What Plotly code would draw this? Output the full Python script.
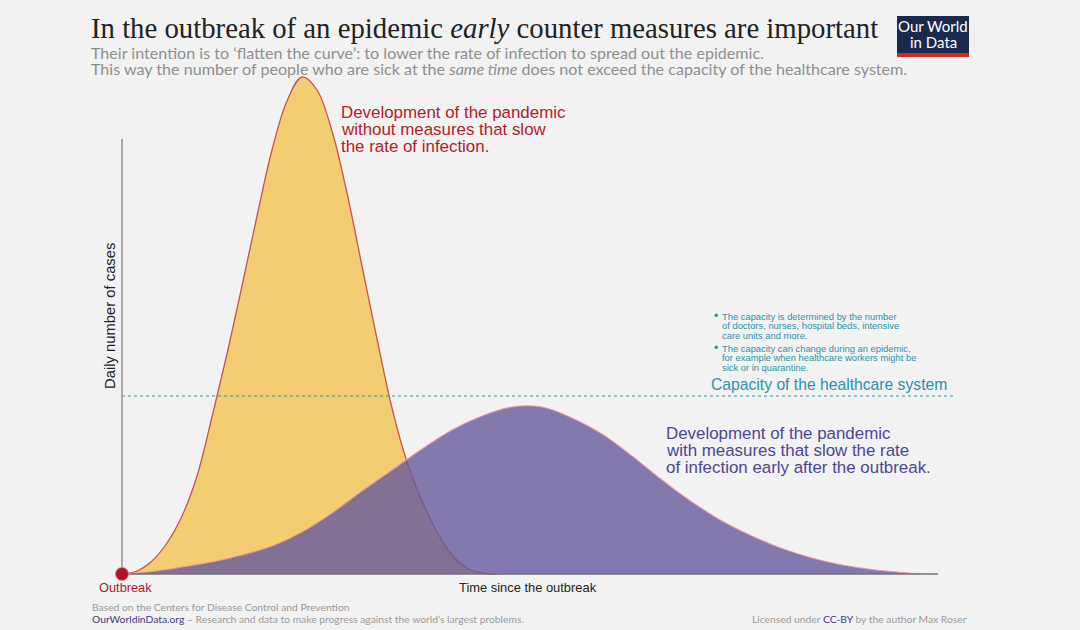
import plotly.graph_objects as go

# curves: time since outbreak, daily cases (chart units)
no_measures = [
    (0, 0), (15, 3), (30, 13), (45, 31), (60, 58), (75, 98), (90, 157), (105, 220),
    (120, 288), (135, 358), (150, 424), (165, 473), (180, 497), (195, 484),
    (210, 443), (225, 381), (240, 308), (255, 235), (270, 166), (285, 112),
    (300, 73), (315, 42), (330, 19), (345, 6), (360, 1), (375, 0),
]
with_measures = [
    (0, 0), (30, 2.5), (60, 7), (90, 12), (120, 19), (150, 28), (180, 42), (210, 61),
    (240, 83), (270, 104), (300, 125), (330, 144), (360, 158), (390, 167), (420, 167),
    (450, 156), (480, 140), (510, 118), (540, 94), (570, 72), (600, 53), (630, 38),
    (660, 25.5), (690, 16), (720, 9), (750, 4.5), (780, 1.5), (800, 0),
]
capacity = 178

fig = go.Figure()

fig.add_trace(go.Scatter(
    x=[p[0] for p in no_measures], y=[p[1] for p in no_measures],
    mode="lines", line=dict(color="#c9534c", width=1.3, shape="spline"),
    fill="tozeroy", fillcolor="#f2cd72",
))
fig.add_trace(go.Scatter(
    x=[p[0] for p in with_measures], y=[p[1] for p in with_measures],
    mode="lines", line=dict(color="rgba(238,150,165,0.9)", width=1.1, shape="spline"),
    fill="tozeroy", fillcolor="rgba(103,90,157,0.8)",
))

# capacity line and the two axes
fig.add_trace(go.Scatter(x=[0, 831], y=[capacity, capacity], mode="lines",
                         line=dict(color="#2f9a98", width=1.2, dash="dot")))
fig.add_trace(go.Scatter(x=[0, 0], y=[0, 435], mode="lines",
                         line=dict(color="#8c8c8c", width=1.4)))
fig.add_trace(go.Scatter(x=[0, 816], y=[0, 0], mode="lines",
                         line=dict(color="#76707c", width=1.6)))
fig.add_trace(go.Scatter(x=[0], y=[0], mode="markers",
                         marker=dict(color="#b5112a", size=13,
                                     line=dict(color="#d9808c", width=1))))

SANS = "Liberation Sans"
LATO = "Lato"
GREY = "#8f8f8f"
RED = "#b3202c"
PURPLE = "#4f4595"
TEAL = "#2b93a8"


def note(text, px, py, size, color, family=SANS, anchor="left", angle=0):
    fig.add_annotation(text=text, x=px - 122, y=574 - py, xref="x", yref="y",
                       showarrow=False, xanchor=anchor, yanchor="middle",
                       textangle=angle, font=dict(size=size, color=color, family=family))


note("Their intention is to ‘flatten the curve’: to lower the rate of infection to spread out the epidemic.",
     89, 52, 16.1, GREY, LATO)
note("This way the number of people who are sick at the <i>same time</i> does not exceed the capacity of the healthcare system.",
     89, 68, 16.1, GREY, LATO)

for i, line in enumerate(["Development of the pandemic", "without measures that slow", "the rate of infection."]):
    note(line, 339, 112 + i * 17, 16.9, RED)
for i, line in enumerate(["Development of the pandemic", "with measures that slow the rate", "of infection early after the outbreak."]):
    note(line, 664, 433 + i * 17, 16.9, PURPLE)

for i, line in enumerate(["The capacity is determined by the number", "of doctors, nurses, hospital beds, intensive", "care units and more."]):
    note(line, 720, 316 + i * 9.8, 9.4, TEAL)
for i, line in enumerate(["The capacity can change during an epidemic,", "for example when healthcare workers might be", "sick or in quarantine."]):
    note(line, 720, 348 + i * 9.8, 9.4, TEAL)
note("•", 712, 316, 12, TEAL)
note("•", 712, 348, 12, TEAL)
note("Capacity of the healthcare system", 709, 384, 15.7, TEAL)

note("Daily number of cases", 110, 316, 14.8, "#222222", anchor="center", angle=-90)
note("Time since the outbreak", 528, 587, 12.9, "#222222", anchor="center")
note("Outbreak", 125, 587, 12.8, RED, anchor="center")

note("Based on the Centers for Disease Control and Prevention", 90, 607, 10.3, "#9a9a9a", LATO)
note("<span style='color:#3f3a84'>OurWorldinData.org</span> – Research and data to make progress against the world’s largest problems.",
     90, 619, 10.3, "#9a9a9a", LATO)
note("Licensed under <span style='color:#3f3a84'>CC-BY</span> by the author Max Roser", 969, 619, 10.3, "#9a9a9a", LATO, anchor="right")

# logo
fig.add_shape(type="rect", x0=897 - 122, x1=969 - 122, y0=574 - 53, y1=574 - 16,
              fillcolor="#1a2a4f", line_width=0)
fig.add_shape(type="rect", x0=897 - 122, x1=969 - 122, y0=574 - 57, y1=574 - 53,
              fillcolor="#d42b21", line_width=0)
note("Our World", 933, 26, 15, "white", LATO, anchor="center")
note("in Data", 933, 42, 15, "white", LATO, anchor="center")

fig.update_layout(
    width=1080, height=630,
    margin=dict(l=0, r=0, t=0, b=0),
    paper_bgcolor="#f2f2f2", plot_bgcolor="#f2f2f2",
    showlegend=False,
    title=dict(text="In the outbreak of an epidemic <i>early</i> counter measures are important",
               x=91 / 1080, xanchor="left", y=1 - 28 / 630, yanchor="middle",
               font=dict(family="Liberation Serif", size=28.75, color="#222222")),
    xaxis=dict(range=[-122, 958], visible=False),
    yaxis=dict(range=[-56, 574], visible=False),
)

fig.write_html("out.html", config=dict(displayModeBar=False),
               post_script="document.body.style.margin='0';")
